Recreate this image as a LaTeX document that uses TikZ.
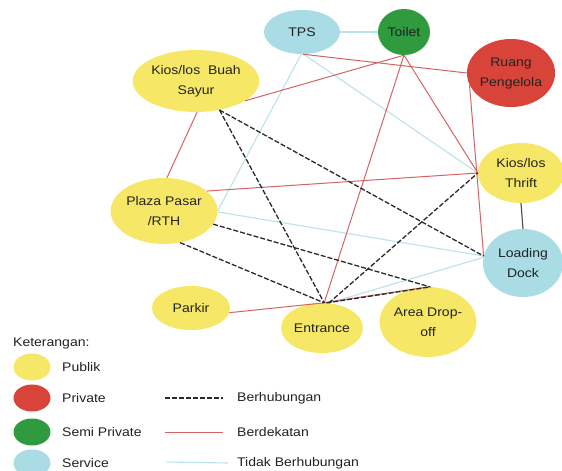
\documentclass[tikz,border=0pt]{standalone}
\usepackage{fontspec}
\setmainfont{Liberation Sans}[FakeStretch=1.12]
\usetikzlibrary{shapes.geometric}
\definecolor{pub}{HTML}{F6E866}
\definecolor{priv}{HTML}{D9443A}
\definecolor{semi}{HTML}{2F9A3E}
\definecolor{svc}{HTML}{A9DCE4}
\definecolor{txt}{HTML}{222222}
\definecolor{redline}{HTML}{D46464}
\definecolor{blueline}{HTML}{BCE2EA}
\definecolor{darkline}{HTML}{2A2A2A}
\begin{document}
\begin{tikzpicture}[x=1pt,y=-1pt,
  area/.style={ellipse, draw=none, inner sep=0pt, align=center, text=txt,
    font=\fontsize{12.5}{20}\selectfont},
  lbl/.style={inner sep=0pt, anchor=west, text=txt, font=\fontsize{12.5}{20}\selectfont},
  legdot/.style={ellipse, draw=none, inner sep=0pt, minimum width=37pt, minimum height=27pt},
  berhub/.style={draw=darkline, line width=1.3pt, dash pattern=on 5pt off 2pt},
  dekat/.style={draw=redline, line width=1pt},
  tidak/.style={draw=blueline, line width=1.1pt},
  link/.style={draw=darkline!80, line width=1.2pt}]
\useasboundingbox (0,0) rectangle (562,471);
\fill[white] (0,0) rectangle (562,471);

% areas
\node[area, fill=svc, minimum width=76pt, minimum height=44pt] (tps) at (302,32) {TPS};
\node[area, fill=semi, minimum width=52pt, minimum height=46pt] (toilet) at (404,32) {Toilet};
\node[area, fill=priv, minimum width=88pt, minimum height=68pt] (rp) at (511,73) {Ruang\\Pengelola};
\node[area, fill=pub, minimum width=118pt, minimum height=62pt] (bs) at (196,81) {Kios/los\ \ Buah\\Sayur};
\node[area, fill=pub, minimum width=102pt, minimum height=66pt] (pp) at (164,211) {Plaza Pasar\\/RTH};
\node[area, fill=pub, minimum width=86pt, minimum height=60pt] (kt) at (521,173) {Kios/los\\Thrift};
\node[area, fill=svc, minimum width=80pt, minimum height=68pt] (ld) at (523,263) {Loading\\Dock};
\node[area, fill=pub, minimum width=78pt, minimum height=44pt] (pk) at (191,308) {Parkir};
\node[area, fill=pub, minimum width=82pt, minimum height=50pt] (en) at (322,328) {Entrance};
\node[area, fill=pub, minimum width=88pt, minimum height=70pt] (ad) at (428,322) {Area Drop-\\off};

% tidak berhubungan
\draw[tidak] (tps.east) -- (toilet.west);
\draw[tidak] (tps.-92) -- (pp.0);
\draw[tidak] (tps.-86) -- (kt.180);
\draw[tidak] (pp.-1) -- (ld.170);
\draw[tidak] (en.75) -- (ld.172);

% berdekatan
\draw[dekat] (bs.-22) -- (toilet.-90);
\draw[dekat] (tps.-88) -- (rp.180);
\draw[dekat] (toilet.-90) -- (en.85);
\draw[dekat] (toilet.-90) -- (kt.180);
\draw[dekat] (rp.-164) -- (ld.170);
\draw[dekat] (pp.25) -- (kt.180);
\draw[dekat] (bs.-88) -- (pp.85);
\draw[dekat] (pk.-7) -- (en.85);
\draw[dekat] (en.88) -- (ad.89);

% berhubungan
\draw[berhub] (bs.-51) -- (en.85);
\draw[berhub] (bs.-51) -- (ld.170);
\draw[berhub] (pp.-15) -- (ad.87);
\draw[berhub] (pp.-63) -- (en.85);
\draw[berhub] (en.75) -- (kt.180);
\draw[berhub] (en.80) -- (ad.86);
\draw[link] (kt.south) -- (ld.north);

% legend
\node[lbl] (ket) at (13,343) {Keterangan:};
\node[legdot, fill=pub] (l1) at (32,367) {};
\node[legdot, fill=priv] (l2) at (32,398) {};
\node[legdot, fill=semi] (l3) at (32,432) {};
\node[legdot, fill=svc] (l4) at (32,463) {};
\node[lbl] (t1) at (62,367) {Publik};
\node[lbl] (t2) at (62,398) {Private};
\node[lbl] (t3) at (62,432) {Semi Private};
\node[lbl] (t4) at (62,463) {Service};
\coordinate (a1) at (165,398);
\coordinate (a2) at (165,432);
\coordinate (a3) at (167,462);
\node[lbl] (b1) at (237,398) {Berhubungan};
\node[lbl] (b2) at (237,432) {Berdekatan};
\node[lbl] (b3) at (237,463) {Tidak Berhubungan};
\draw[berhub] (a1) -- ([xshift=-14pt]b1.west);
\draw[dekat] (a2) -- ([xshift=-14pt]b2.west);
\draw[tidak] (a3) -- ([xshift=-9pt]b3.west);
\end{tikzpicture}
\end{document}
